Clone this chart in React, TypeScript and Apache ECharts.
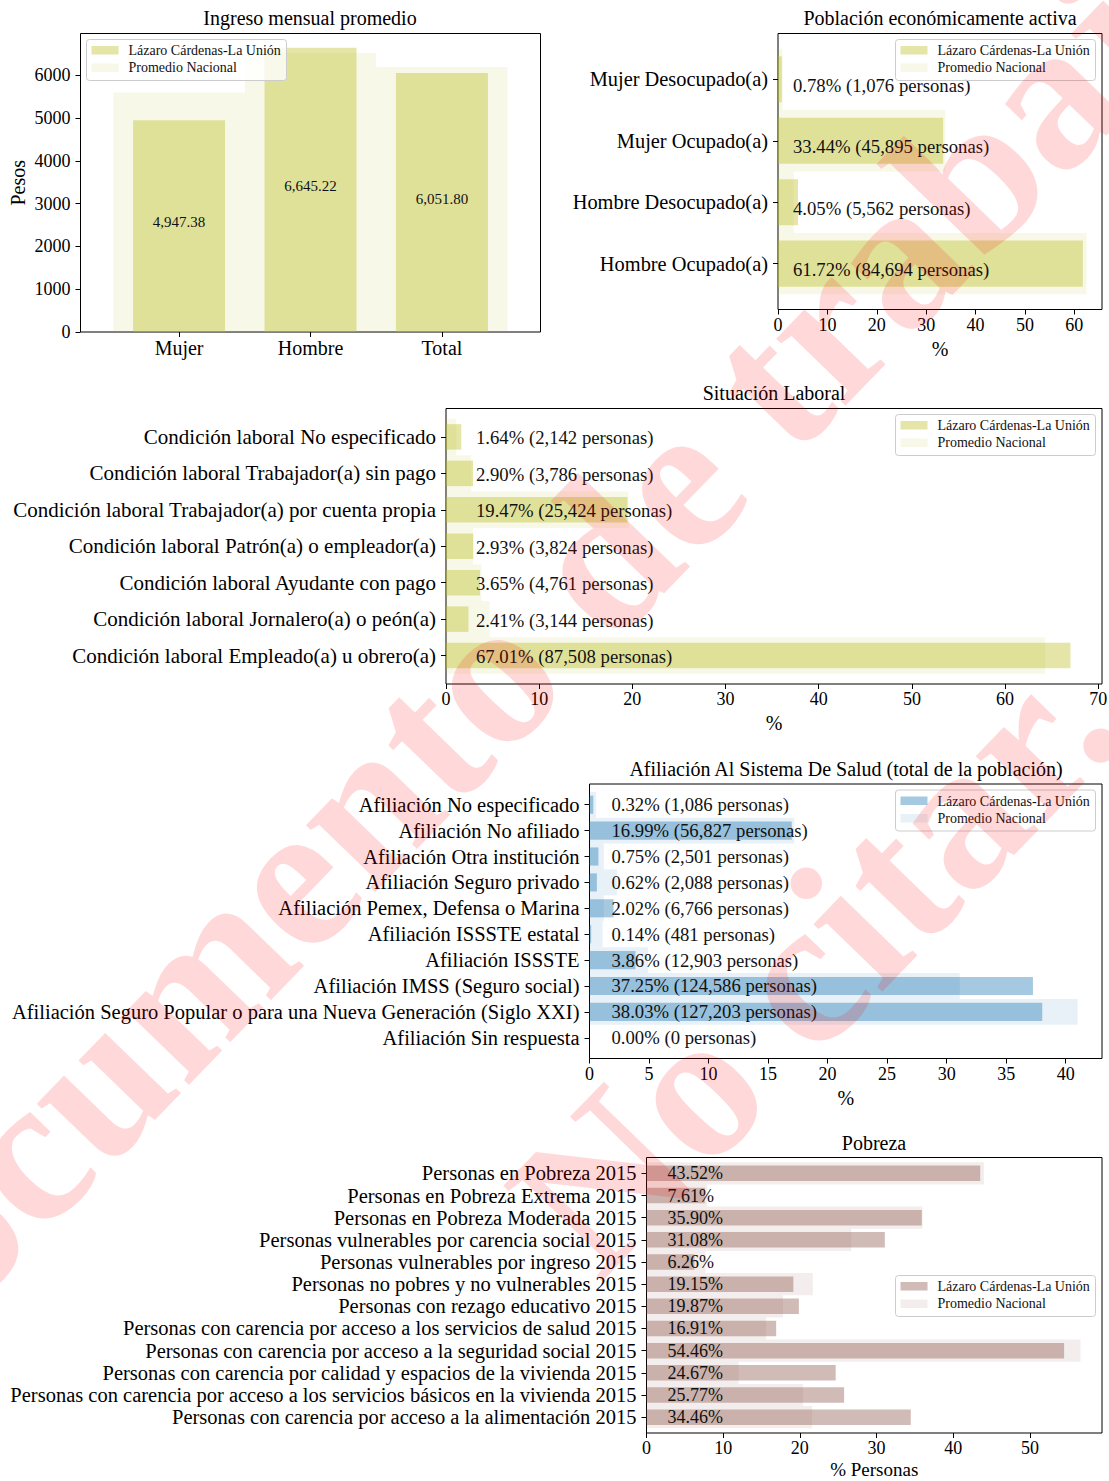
import React, { useEffect, useRef } from 'react';
import * as echarts from 'echarts';

const FONT = '"Liberation Serif", "Times New Roman", serif';
const LOCAL_NAME = 'Lázaro Cárdenas-La Unión';
const NATIONAL_NAME = 'Promedio Nacional';

// ---------- Panel 1: Ingreso mensual promedio ----------
const ingresoCategorias = ['Mujer', 'Hombre', 'Total'];
const ingresoLocal = [4947.38, 6645.22, 6051.8];
const ingresoNacional = [5596, 6524, 6196];
const ingresoTicks = [0, 1000, 2000, 3000, 4000, 5000, 6000];

// ---------- Panel 2: Población económicamente activa ----------
const peaCategorias = ['Mujer Desocupado(a)', 'Mujer Ocupado(a)', 'Hombre Desocupado(a)', 'Hombre Ocupado(a)'];
const peaLocal = [0.78, 33.44, 4.05, 61.72];
const peaPersonas = [1076, 45895, 5562, 84694];
const peaNacional = [0.92, 33.9, 3.2, 62.5];
const peaTicks = [0, 10, 20, 30, 40, 50, 60];

// ---------- Panel 3: Situación Laboral ----------
const laboralCategorias = [
  'Condición laboral No especificado',
  'Condición laboral Trabajador(a) sin pago',
  'Condición laboral Trabajador(a) por cuenta propia',
  'Condición laboral Patrón(a) o empleador(a)',
  'Condición laboral Ayudante con pago',
  'Condición laboral Jornalero(a) o peón(a)',
  'Condición laboral Empleado(a) u obrero(a)',
];
const laboralLocal = [1.64, 2.9, 19.47, 2.93, 3.65, 2.41, 67.01];
const laboralPersonas = [2142, 3786, 25424, 3824, 4761, 3144, 87508];
const laboralNacional = [1.1, 2.7, 19.6, 2.9, 3.8, 4.7, 64.3];
const laboralTicks = [0, 10, 20, 30, 40, 50, 60, 70];

// ---------- Panel 4: Afiliación al sistema de salud ----------
const saludCategorias = [
  'Afiliación No especificado',
  'Afiliación No afiliado',
  'Afiliación Otra institución',
  'Afiliación Seguro privado',
  'Afiliación Pemex, Defensa o Marina',
  'Afiliación ISSSTE estatal',
  'Afiliación ISSSTE',
  'Afiliación IMSS (Seguro social)',
  'Afiliación Seguro Popular o para una Nueva Generación (Siglo XXI)',
  'Afiliación Sin respuesta',
];
const saludLocal = [0.32, 16.99, 0.75, 0.62, 2.02, 0.14, 3.86, 37.25, 38.03, 0.0];
const saludPersonas = [1086, 56827, 2501, 2088, 6766, 481, 12903, 124586, 127203, 0];
const saludNacional = [0.55, 17.2, 1.2, 2.3, 1.2, 1.1, 4.9, 31.1, 41.0, 0];
const saludTicks = [0, 5, 10, 15, 20, 25, 30, 35, 40];

// ---------- Panel 5: Pobreza ----------
const pobrezaCategorias = [
  'Personas en Pobreza 2015',
  'Personas en Pobreza Extrema 2015',
  'Personas en Pobreza Moderada 2015',
  'Personas vulnerables por carencia social 2015',
  'Personas vulnerables por ingreso 2015',
  'Personas no pobres y no vulnerables 2015',
  'Personas con rezago educativo 2015',
  'Personas con carencia por acceso a los servicios de salud 2015',
  'Personas con carencia por acceso a la seguridad social 2015',
  'Personas con carencia por calidad y espacios de la vivienda 2015',
  'Personas con carencia por acceso a los servicios básicos en la vivienda 2015',
  'Personas con carencia por acceso a la alimentación 2015',
];
const pobrezaLocal = [43.52, 7.61, 35.9, 31.08, 6.26, 19.15, 19.87, 16.91, 54.46, 24.67, 25.77, 34.46];
const pobrezaNacional = [44.0, 7.9, 36.0, 26.7, 7.7, 21.7, 17.8, 15.6, 56.6, 12.0, 20.4, 21.6];
const pobrezaTicks = [0, 10, 20, 30, 40, 50];

const OLIVE_L = 'rgba(188,189,34,0.4)';
const OLIVE_N = 'rgba(188,189,34,0.1)';
const BLUE_L = 'rgba(31,119,180,0.4)';
const BLUE_N = 'rgba(31,119,180,0.1)';
const BROWN_L = 'rgba(140,86,75,0.4)';
const BROWN_N = 'rgba(140,86,75,0.1)';

const TEXT = '#111';

const fmtPct = (v: number, p: number) => `${v.toFixed(2)}% (${p.toLocaleString('en-US')} personas)`;

function textStyle(extra: any) {
  return Object.assign(
    { fill: TEXT, align: 'left', textAlign: 'left', verticalAlign: 'middle', textVerticalAlign: 'middle' },
    extra
  );
}

function hBar(
  name: string,
  gi: number,
  values: number[],
  thick: number,
  color: string,
  labels: string[] | null,
  labelOffset: number,
  labelDy: number,
  labelSize: number
) {
  const n = values.length;
  return {
    type: 'custom',
    name,
    xAxisIndex: gi,
    yAxisIndex: gi,
    z: labels ? 3 : 2,
    data: values.map((v, i) => [v, n - 1 - i]),
    encode: { x: 0, y: 1 },
    renderItem: (params: any, api: any) => {
      const v = api.value(0);
      const c = api.value(1);
      const p0 = api.coord([0, c]);
      const p1 = api.coord([v, c]);
      const h = Math.abs(api.size([0, thick])[1]);
      const children: any[] = [
        {
          type: 'rect',
          shape: { x: p0[0], y: p0[1] - h / 2, width: p1[0] - p0[0], height: h },
          style: { fill: color },
        },
      ];
      if (labels) {
        children.push({
          type: 'text',
          x: p0[0] + labelOffset,
          y: p0[1] + labelDy,
          style: textStyle({ text: labels[params.dataIndex], font: `${labelSize}px ${FONT}` }),
        });
      }
      return { type: 'group', children };
    },
  };
}

function vBar(name: string, gi: number, values: number[], thick: number, color: string, labels: string[] | null) {
  return {
    type: 'custom',
    name,
    xAxisIndex: gi,
    yAxisIndex: gi,
    z: labels ? 3 : 2,
    data: values.map((v, i) => [i, v]),
    encode: { x: 0, y: 1 },
    renderItem: (params: any, api: any) => {
      const i = api.value(0);
      const v = api.value(1);
      const b = api.coord([i, 0]);
      const t = api.coord([i, v]);
      const w = Math.abs(api.size([thick, 0])[0]);
      const children: any[] = [
        { type: 'rect', shape: { x: b[0] - w / 2, y: t[1], width: w, height: b[1] - t[1] }, style: { fill: color } },
      ];
      if (labels) {
        children.push({
          type: 'text',
          x: b[0],
          y: (b[1] + t[1]) / 2 - 4,
          style: textStyle({
            text: labels[params.dataIndex],
            font: `15px ${FONT}`,
            align: 'center',
            textAlign: 'center',
          }),
        });
      }
      return { type: 'group', children };
    },
  };
}

const tickStyle = { show: true, length: 5, lineStyle: { color: '#000', width: 1 } };
const noLine = { show: false, onZero: false };

function valueX(gi: number, max: number, ticks: number[], name: string, nameSize: number, nameGap: number) {
  return {
    type: 'value',
    gridIndex: gi,
    position: 'bottom',
    min: 0,
    max,
    axisLine: noLine,
    splitLine: { show: false },
    axisTick: { ...tickStyle, customValues: ticks },
    axisLabel: {
      customValues: ticks,
      color: '#000',
      fontFamily: FONT,
      fontSize: 18,
      margin: 6,
      formatter: (v: number) => String(v),
    },
    name,
    nameLocation: 'middle',
    nameGap,
    nameTextStyle: { color: '#000', fontFamily: FONT, fontSize: nameSize },
  };
}

function catY(gi: number, cats: string[], m: number, size: number) {
  const n = cats.length;
  const idx = cats.map((_, i) => i);
  return {
    type: 'value',
    gridIndex: gi,
    position: 'left',
    min: -m,
    max: n - 1 + m,
    axisLine: noLine,
    splitLine: { show: false },
    axisTick: { ...tickStyle, customValues: idx },
    axisLabel: {
      customValues: idx,
      color: '#000',
      fontFamily: FONT,
      fontSize: size,
      margin: 10,
      formatter: (v: number) => cats[n - 1 - Math.round(v)] ?? '',
    },
  };
}

function legendGroup(x: number, y: number, cl: string, cn: string) {
  const font = `14px ${FONT}`;
  return {
    type: 'group',
    x,
    y,
    z: 50,
    silent: true,
    children: [
      {
        type: 'rect',
        z: 50,
        shape: { x: 0, y: 0, width: 200, height: 41, r: 3 },
        style: { fill: 'rgba(255,255,255,0.8)', stroke: '#cccccc', lineWidth: 1 },
      },
      { type: 'rect', z: 51, shape: { x: 5, y: 6.5, width: 27, height: 8.5 }, style: { fill: cl } },
      { type: 'rect', z: 51, shape: { x: 5, y: 24, width: 27, height: 8.5 }, style: { fill: cn } },
      { type: 'text', z: 51, x: 42, y: 11.2, style: textStyle({ text: LOCAL_NAME, font }) },
      { type: 'text', z: 51, x: 42, y: 28.4, style: textStyle({ text: NATIONAL_NAME, font }) },
    ],
  };
}

function title(text: string, cx: number, cy: number) {
  return {
    text,
    left: cx,
    top: cy - 11,
    textAlign: 'center',
    padding: 0,
    textStyle: { color: '#000', fontFamily: FONT, fontSize: 20, fontWeight: 'normal' },
  };
}

function buildOption() {
  const gridBase = {
    show: true,
    borderColor: '#000',
    borderWidth: 1,
    backgroundColor: 'transparent',
    containLabel: false,
    outerBoundsMode: 'none',
  };
  const grids = [
    { ...gridBase, left: 80.5, top: 33.5, width: 460, height: 298.5 },
    { ...gridBase, left: 778, top: 33.5, width: 324, height: 276 },
    { ...gridBase, left: 446, top: 408.5, width: 656, height: 275.5 },
    { ...gridBase, left: 589.5, top: 784, width: 512.5, height: 274.5 },
    { ...gridBase, left: 646.5, top: 1157.5, width: 455.5, height: 275.5 },
  ];

  const ingresoLabels = ingresoLocal.map((v) =>
    v.toLocaleString('en-US', { minimumFractionDigits: 2, maximumFractionDigits: 2 })
  );
  const peaLabels = peaLocal.map((v, i) => fmtPct(v, peaPersonas[i]));
  const laboralLabels = laboralLocal.map((v, i) => fmtPct(v, laboralPersonas[i]));
  const saludLabels = saludLocal.map((v, i) => fmtPct(v, saludPersonas[i]));
  const pobrezaLabels = pobrezaLocal.map((v) => `${v.toFixed(2)}%`);

  const xAxis = [
    {
      type: 'value',
      gridIndex: 0,
      position: 'bottom',
      min: -0.75,
      max: 2.75,
      axisLine: noLine,
      splitLine: { show: false },
      axisTick: { ...tickStyle, customValues: [0, 1, 2] },
      axisLabel: {
        customValues: [0, 1, 2],
        color: '#000',
        fontFamily: FONT,
        fontSize: 20,
        margin: 6,
        formatter: (v: number) => ingresoCategorias[Math.round(v)] ?? '',
      },
    },
    valueX(1, 65.6, peaTicks, '%', 20, 29),
    valueX(2, 70.4, laboralTicks, '%', 20, 29),
    valueX(3, 43.05, saludTicks, '%', 20, 29),
    valueX(4, 59.4, pobrezaTicks, '% Personas', 19, 27),
  ];

  const yAxis = [
    {
      type: 'value',
      gridIndex: 0,
      position: 'left',
      min: 0,
      max: 6977,
      axisLine: noLine,
      splitLine: { show: false },
      axisTick: { ...tickStyle, customValues: ingresoTicks },
      axisLabel: {
        customValues: ingresoTicks,
        color: '#000',
        fontFamily: FONT,
        fontSize: 18,
        margin: 10,
        formatter: (v: number) => String(v),
      },
      name: 'Pesos',
      nameLocation: 'middle',
      nameGap: 53,
      nameTextStyle: { color: '#000', fontFamily: FONT, fontSize: 20 },
    },
    catY(1, peaCategorias, 0.747, 20.4),
    catY(2, laboralCategorias, 0.78, 21),
    catY(3, saludCategorias, 0.8, 20.5),
    catY(4, pobrezaCategorias, 0.716, 20.5),
  ];

  const series = [
    vBar(NATIONAL_NAME, 0, ingresoNacional, 1.0, OLIVE_N, null),
    vBar(LOCAL_NAME, 0, ingresoLocal, 0.7, OLIVE_L, ingresoLabels),
    hBar(NATIONAL_NAME, 1, peaNacional, 1.0, OLIVE_N, null, 0, 0, 18),
    hBar(LOCAL_NAME, 1, peaLocal, 0.75, OLIVE_L, peaLabels, 15, 6, 18.7),
    hBar(NATIONAL_NAME, 2, laboralNacional, 1.0, OLIVE_N, null, 0, 0, 18),
    hBar(LOCAL_NAME, 2, laboralLocal, 0.7, OLIVE_L, laboralLabels, 30, 1, 18.7),
    hBar(NATIONAL_NAME, 3, saludNacional, 1.0, BLUE_N, null, 0, 0, 18),
    hBar(LOCAL_NAME, 3, saludLocal, 0.7, BLUE_L, saludLabels, 22, 0, 18.7),
    hBar(NATIONAL_NAME, 4, pobrezaNacional, 1.0, BROWN_N, null, 0, 0, 18),
    hBar(LOCAL_NAME, 4, pobrezaLocal, 0.7, BROWN_L, pobrezaLabels, 21, 0, 18),
  ];

  const wmFont = `bold 210px ${FONT}`;
  const wmFill = 'rgba(255,0,0,0.15)';
  const rot = (46 * Math.PI) / 180;
  const graphic = [
    legendGroup(86.5, 39.5, OLIVE_L, OLIVE_N),
    legendGroup(895.5, 39.5, OLIVE_L, OLIVE_N),
    legendGroup(895.5, 414.5, OLIVE_L, OLIVE_N),
    legendGroup(895.5, 790, BLUE_L, BLUE_N),
    legendGroup(895.5, 1275.5, BROWN_L, BROWN_N),
    {
      type: 'text',
      x: 525,
      y: 635,
      rotation: rot,
      z: 100,
      silent: true,
      style: {
        text: 'Documento de trabajo.',
        font: wmFont,
        fill: wmFill,
        align: 'center',
        textAlign: 'center',
        verticalAlign: 'middle',
        textVerticalAlign: 'middle',
      },
    },
    {
      type: 'text',
      x: 813,
      y: 961,
      rotation: rot,
      z: 100,
      silent: true,
      style: {
        text: 'No citar.',
        font: wmFont,
        fill: wmFill,
        align: 'center',
        textAlign: 'center',
        verticalAlign: 'middle',
        textVerticalAlign: 'middle',
      },
    },
  ];

  return {
    animation: false,
    backgroundColor: '#ffffff',
    title: [
      title('Ingreso mensual promedio', 310, 19),
      title('Población económicamente activa', 940, 19),
      title('Situación Laboral', 774, 394),
      title('Afiliación Al Sistema De Salud (total de la población)', 846, 770),
      title('Pobreza', 874, 1144),
    ],
    grid: grids,
    xAxis,
    yAxis,
    series,
    graphic,
  };
}

export default function App() {
  const ref = useRef<HTMLDivElement>(null);
  useEffect(() => {
    if (!ref.current) return;
    const chart = echarts.init(ref.current, undefined, { renderer: 'svg' });
    chart.setOption(buildOption() as any);
    return () => chart.dispose();
  }, []);
  return (
    <div
      ref={ref}
      style={{ position: 'absolute', left: 0, top: 0, width: 1109, height: 1481, background: '#fff' }}
    />
  );
}
